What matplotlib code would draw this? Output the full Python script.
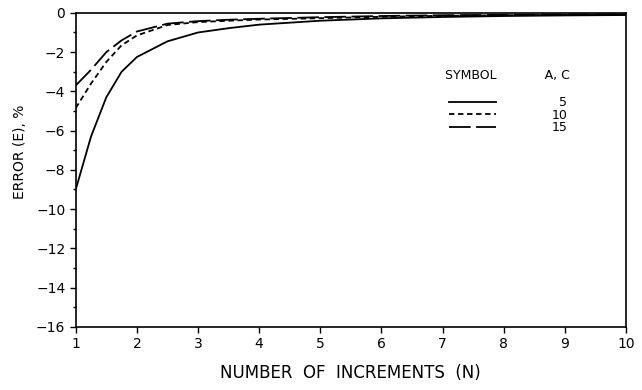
import matplotlib
matplotlib.use("Agg")
import matplotlib.pyplot as plt
from matplotlib.ticker import MultipleLocator

# Data
n_values = [1, 1.25, 1.5, 1.75, 2, 2.5, 3, 3.5, 4, 5, 6, 7, 8, 9, 10]
err_5 = [-9.0, -6.3, -4.3, -3.0, -2.25, -1.45, -1.0, -0.78, -0.6, -0.4, -0.28, -0.21, -0.16, -0.13, -0.11]
err_10 = [-4.85, -3.6, -2.5, -1.65, -1.15, -0.62, -0.47, -0.4, -0.34, -0.27, -0.2, -0.15, -0.12, -0.1, -0.08]
err_15 = [-3.7, -2.9, -2.0, -1.4, -0.95, -0.55, -0.42, -0.35, -0.3, -0.22, -0.16, -0.12, -0.1, -0.08, -0.07]
labels = ["\u20075", "10", "15"]
x_ticks = list(range(1, 11))
y_ticks = list(range(-16, 1, 2))

plt.rcParams['font.family'] = ['DejaVu Sans']

fig = plt.figure(figsize=(6.42, 3.9), dpi=100)
ax = fig.add_axes([0.118, 0.162, 0.857, 0.805])

lw = 1.3
ax.plot(n_values, err_5, color='black', lw=lw, linestyle='-', label=labels[0])
ax.plot(n_values, err_10, color='black', lw=lw, linestyle=(0, (3, 2)), label=labels[1])
ax.plot(n_values, err_15, color='black', lw=lw, linestyle=(0, (12, 3)), label=labels[2])

ax.set_xlim(1, 10)
ax.set_ylim(-16, 0)
ax.set_xticks(x_ticks)
ax.set_yticks(y_ticks)
ax.yaxis.set_minor_locator(MultipleLocator(1))
ax.tick_params(axis='both', which='major', direction='out', length=4, width=1, labelsize=10,
               top=False, right=False)
ax.tick_params(axis='y', which='minor', direction='out', length=2.5, width=1, right=False)
for s in ax.spines.values():
    s.set_linewidth(1.2)

ax.set_xlabel("NUMBER  OF  INCREMENTS  (N)", fontsize=12, labelpad=9)
ax.set_ylabel("ERROR (E), %", fontsize=10)
ax.yaxis.set_label_coords(-0.088, 0.557)

leg = ax.legend(loc='upper left', bbox_to_anchor=(0.672, 0.82), frameon=False,
                title="SYMBOL            A, C", fontsize=9, title_fontsize=9,
                handlelength=3.8, handletextpad=4.4, labelspacing=-0.05,
                borderpad=0, borderaxespad=0)
leg._legend_box.sep = 10

fig.savefig("out.png", dpi=100)
